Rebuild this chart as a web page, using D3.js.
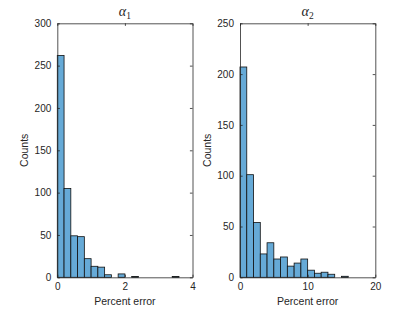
<!DOCTYPE html>
<html>
<head>
<meta charset="utf-8">
<script src="https://cdn.jsdelivr.net/npm/d3@7"></script>
<style>
  html, body { margin: 0; padding: 0; background: #fff; }
  svg { display: block; }
  text { font-family: "Liberation Sans", Arial, sans-serif; fill: #262626; }
</style>
</head>
<body>
<svg id="chart" width="415" height="312"></svg>
<script>
// ---- data ----
const titles = ["1", "2"];                 // subscripts of alpha
const xLabel = "Percent error";
const yLabel = "Counts";

const a1BinWidth = 0.2;
const a1Counts = [262, 105, 49, 48, 22, 13, 12, 3, 0, 4, 0, 1, 0, 0, 0, 0, 0, 1];
const a1XTicks = [0, 2, 4];
const a1YTicks = [0, 50, 100, 150, 200, 250, 300];
const a1XDomain = [0, 4];
const a1YDomain = [0, 300];

const a2BinWidth = 1;
const a2Counts = [207, 101, 54, 23, 34, 18, 20, 11, 14, 18, 7, 4, 5, 3, 0, 1];
const a2XTicks = [0, 10, 20];
const a2YTicks = [0, 50, 100, 150, 200, 250];
const a2XDomain = [0, 20];
const a2YDomain = [0, 250];

const panels = [
  { sub: titles[0], bw: a1BinWidth, counts: a1Counts, xt: a1XTicks, yt: a1YTicks, xd: a1XDomain, yd: a1YDomain, x0: 57.3, x1: 192.5 },
  { sub: titles[1], bw: a2BinWidth, counts: a2Counts, xt: a2XTicks, yt: a2YTicks, xd: a2XDomain, yd: a2YDomain, x0: 240.0, x1: 375.3 }
];

const svg = d3.select("#chart");
const yTop = 23.3, yBot = 277.3;
const axisColor = "#262626";
const tickLen = 2.6;
const fmt = d3.format("d");

panels.forEach(p => {
  const x = d3.scaleLinear().domain(p.xd).range([p.x0, p.x1]);
  const y = d3.scaleLinear().domain(p.yd).range([yBot, yTop]);
  const g = svg.append("g");

  const bins = p.counts.map((c, i) => ({ x0: i * p.bw, x1: (i + 1) * p.bw, c }));

  // bars
  g.selectAll("rect.bar").data(bins).enter().append("rect")
    .attr("class", "bar")
    .attr("x", d => x(d.x0))
    .attr("width", d => x(d.x1) - x(d.x0))
    .attr("y", d => y(d.c))
    .attr("height", d => y(0) - y(d.c))
    .attr("fill", "rgb(102,170,215)")
    .attr("stroke", "#111")
    .attr("stroke-width", 0.8);

  // axes (bottom/left with ticks inward, plus top/right mirrored)
  const axB = d3.axisBottom(x).tickValues(p.xt).tickFormat(fmt).tickSizeInner(-tickLen).tickSizeOuter(0).tickPadding(6);
  const axT = d3.axisTop(x).tickValues(p.xt).tickSizeInner(-tickLen).tickSizeOuter(0).tickFormat("");
  const axL = d3.axisLeft(y).tickValues(p.yt).tickFormat(fmt).tickSizeInner(-tickLen).tickSizeOuter(0).tickPadding(6);
  const axR = d3.axisRight(y).tickValues(p.yt).tickSizeInner(-tickLen).tickSizeOuter(0).tickFormat("");

  const gb = g.append("g").attr("transform", `translate(0,${yBot})`).call(axB);
  const gt = g.append("g").attr("transform", `translate(0,${yTop})`).call(axT);
  const gl = g.append("g").attr("transform", `translate(${p.x0},0)`).call(axL);
  const gr = g.append("g").attr("transform", `translate(${p.x1},0)`).call(axR);

  [gb, gt, gl, gr].forEach(a => {
    a.selectAll("path.domain").attr("stroke", axisColor).attr("stroke-width", 0.8);
    a.selectAll(".tick line").attr("stroke", axisColor).attr("stroke-width", 0.8);
    a.selectAll(".tick text").attr("fill", axisColor)
      .style("font-family", '"Liberation Sans", Arial, sans-serif').style("font-size", "10px");
  });

  // x label
  g.append("text")
    .attr("x", (p.x0 + p.x1) / 2).attr("y", 305)
    .attr("text-anchor", "middle")
    .style("font-size", "10.5px")
    .text(xLabel);

  // y label
  g.append("text")
    .attr("transform", `translate(${p.x0 - 29},${(yTop + yBot) / 2}) rotate(-90)`)
    .attr("text-anchor", "middle")
    .style("font-size", "10.5px")
    .text(yLabel);

  // title
  const t = g.append("text")
    .attr("x", (p.x0 + p.x1) / 2).attr("y", 16)
    .attr("text-anchor", "middle")
    .style("font-family", '"Liberation Serif", "DejaVu Serif", serif');
  t.append("tspan").style("font-style", "italic").style("font-size", "14px").text("α");
  t.append("tspan").attr("dy", 2.5).style("font-size", "9.5px").text(p.sub);
});
</script>
</body>
</html>
